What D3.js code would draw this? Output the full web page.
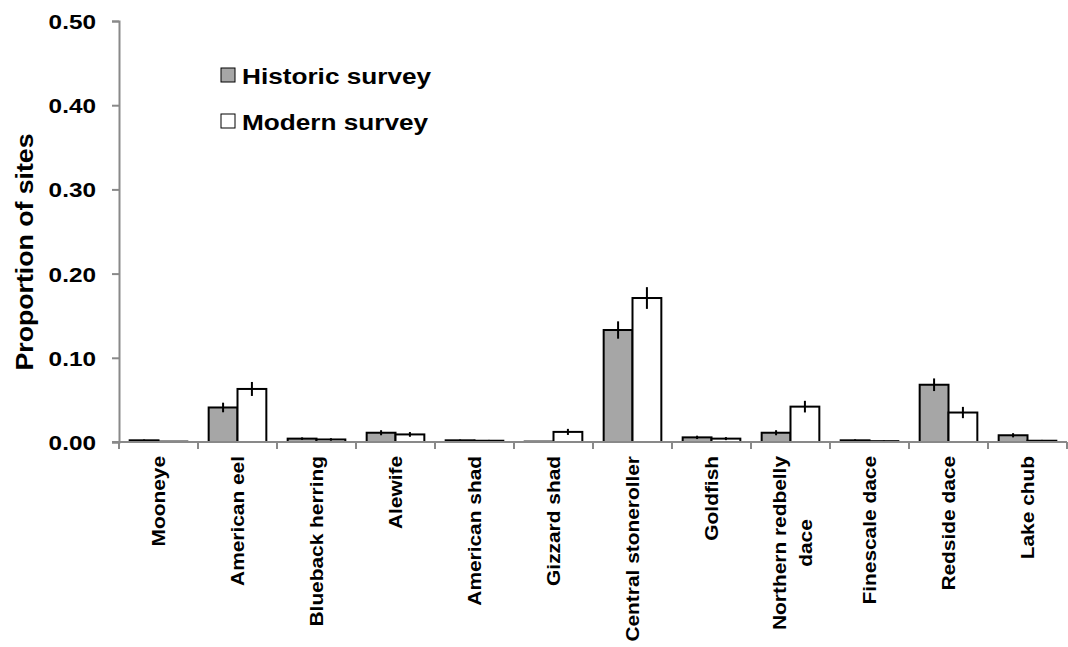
<!DOCTYPE html>
<html>
<head>
<meta charset="utf-8">
<script src="https://cdn.jsdelivr.net/npm/d3@7"></script>
<style>
  body { margin: 0; background: #fff; }
  svg text { font-family: "Liberation Sans", Arial, sans-serif; font-weight: bold; fill: #000; }
</style>
</head>
<body>
<div id="chart"></div>
<script>
// species along the x axis (one entry per line of the label)
const categories = [
  ["Mooneye"], ["American eel"], ["Blueback herring"], ["Alewife"],
  ["American shad"], ["Gizzard shad"], ["Central stoneroller"], ["Goldfish"],
  ["Northern redbelly", "dace"], ["Finescale dace"], ["Redside dace"], ["Lake chub"]
];
const seriesNames = ["Historic survey", "Modern survey"];
const historic    = [0.002, 0.041, 0.004, 0.011, 0.002, 0.0005, 0.133, 0.0055, 0.011, 0.002, 0.068, 0.008];
const historicErr = [0.001, 0.0057, 0.0015, 0.003, 0.001, 0.0005, 0.0103, 0.002, 0.003, 0.0012, 0.0075, 0.0025];
const modern      = [0.0005, 0.063, 0.003, 0.009, 0.0015, 0.012, 0.171, 0.004, 0.042, 0.001, 0.035, 0.0015];
const modernErr   = [0.0005, 0.0083, 0.0015, 0.0028, 0.001, 0.0036, 0.0129, 0.0018, 0.0069, 0.0008, 0.0067, 0.001];
const yTicks = [0, 0.1, 0.2, 0.3, 0.4, 0.5];

const width = 1068, height = 647;
const margin = { top: 21, right: 1, bottom: 205, left: 119 };
const axisColor = "#898989";
const fills = ["#a6a6a6", "#ffffff"];
const stretch = 1.16; // the original text is set a bit wider than Arial

const svg = d3.select("#chart").append("svg")
  .attr("width", width)
  .attr("height", height);

const x = d3.scaleBand()
  .domain(d3.range(categories.length))
  .range([margin.left, width - margin.right])
  .paddingInner(0).paddingOuter(0);

// two bars inside each category, leaving a gap on both sides
const inner = d3.scaleBand()
  .domain([0, 1])
  .range([0, x.bandwidth()])
  .paddingOuter(0.37).paddingInner(0);

const y = d3.scaleLinear()
  .domain([0, 0.5])
  .range([height - margin.bottom, margin.top]);

const rows = categories.map((c, i) => ({
  i: i,
  vals: [
    { s: 0, v: historic[i], e: historicErr[i] },
    { s: 1, v: modern[i], e: modernErr[i] }
  ]
}));

// bars
const groups = svg.append("g").selectAll("g")
  .data(rows)
  .enter()
  .append("g")
  .attr("transform", (d) => `translate(${x(d.i)},0)`);

groups.selectAll("rect")
  .data((d) => d.vals)
  .enter()
  .append("rect")
  .attr("x", (d) => inner(d.s))
  .attr("y", (d) => y(d.v))
  .attr("width", inner.bandwidth())
  .attr("height", (d) => y(0) - y(d.v))
  .attr("fill", (d) => fills[d.s])
  .attr("stroke", "#000")
  .attr("stroke-width", 2);

// error bars
groups.selectAll("line.err")
  .data((d) => d.vals)
  .enter()
  .append("line")
  .attr("class", "err")
  .attr("x1", (d) => inner(d.s) + inner.bandwidth() / 2)
  .attr("x2", (d) => inner(d.s) + inner.bandwidth() / 2)
  .attr("y1", (d) => y(d.v + d.e))
  .attr("y2", (d) => y(Math.max(0, d.v - d.e)))
  .attr("stroke", "#000")
  .attr("stroke-width", 2);

// y axis
const yAxis = svg.append("g")
  .attr("transform", `translate(${margin.left},0)`)
  .call(d3.axisLeft(y).tickValues(yTicks).tickFormat(d3.format(".2f")).tickSize(7).tickPadding(23));
yAxis.select(".domain").attr("stroke", axisColor).attr("stroke-width", 2);
yAxis.selectAll(".tick line").attr("stroke", axisColor).attr("stroke-width", 2);
yAxis.selectAll(".tick text")
  .attr("transform", `translate(-23,0) scale(${stretch},1)`)
  .attr("x", 0)
  .attr("dy", "0.36em")
  .style("font-size", "21px");

// x axis line and ticks on category boundaries
const xAxisG = svg.append("g");
xAxisG.append("line")
  .attr("x1", margin.left - 7)
  .attr("x2", width - margin.right)
  .attr("y1", y(0)).attr("y2", y(0))
  .attr("stroke", axisColor).attr("stroke-width", 2);
xAxisG.selectAll("line.xt")
  .data(d3.range(categories.length + 1))
  .enter()
  .append("line")
  .attr("class", "xt")
  .attr("x1", (d) => (d < categories.length ? x(d) : x(d - 1) + x.bandwidth()))
  .attr("x2", (d) => (d < categories.length ? x(d) : x(d - 1) + x.bandwidth()))
  .attr("y1", y(0)).attr("y2", y(0) + 7)
  .attr("stroke", axisColor).attr("stroke-width", 2);

// rotated category labels
const labelTop = y(0) + 14;
const lineGap = 26;
categories.forEach((lines, i) => {
  const cx = x(i) + x.bandwidth() / 2 + (lines.length - 1) * 2;
  const first = svg.append("text")
    .attr("transform", `translate(${cx - (lines.length - 1) * lineGap / 2},${labelTop}) rotate(-90) scale(${stretch},1)`)
    .attr("text-anchor", "end")
    .attr("dy", "0.35em")
    .style("font-size", "18px")
    .text(lines[0]);
  if (lines.length > 1) {
    const len = first.node().getComputedTextLength() * stretch;
    svg.append("text")
      .attr("transform", `translate(${cx + lineGap / 2},${labelTop + len / 2}) rotate(-90) scale(${stretch},1)`)
      .attr("text-anchor", "middle")
      .attr("dy", "0.35em")
      .style("font-size", "18px")
      .text(lines[1]);
  }
});

// y axis title
svg.append("text")
  .attr("transform", `translate(33,252) rotate(-90) scale(${stretch},1)`)
  .attr("text-anchor", "middle")
  .style("font-size", "23px")
  .text("Proportion of sites");

// legend
const legend = svg.append("g").attr("transform", "translate(221,68)");
seriesNames.forEach((name, i) => {
  legend.append("rect")
    .attr("x", 0)
    .attr("y", i * 46)
    .attr("width", 14)
    .attr("height", 14)
    .attr("fill", fills[i])
    .attr("stroke", "#000")
    .attr("stroke-width", 1);
  legend.append("text")
    .attr("transform", `translate(21,${i * 46 + 15.5}) scale(1.19,1)`)
    .style("font-size", "22px")
    .text(name);
});
</script>
</body>
</html>
